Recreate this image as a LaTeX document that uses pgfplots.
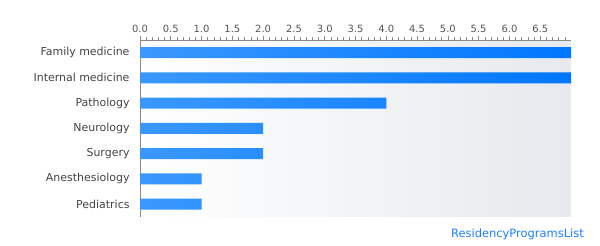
\documentclass[border=0pt]{standalone}
\usepackage{fontspec}
\setmainfont{DejaVu Sans}
\usepackage{pgfplots}
\pgfplotsset{compat=1.18}
\definecolor{barL}{HTML}{3A98FD}
\definecolor{barR}{HTML}{0077FF}
\definecolor{bgR}{HTML}{E6E9ED}
\definecolor{axgray}{HTML}{8A8A8A}
\definecolor{lblgray}{HTML}{444444}
\definecolor{tickgray}{HTML}{555555}
\definecolor{wm}{HTML}{1A7FFF}
\begin{document}
\begin{tikzpicture}[x=1bp,y=1bp]
\path[use as bounding box] (0,0) rectangle (600,245);
\begin{axis}[
  at={(140bp,28.3bp)}, anchor=south west,
  width=431bp, height=176.7bp, scale only axis,
  xmin=0, xmax=7, ymin=-0.5, ymax=6.5,
  y dir=reverse,
  axis x line*=top, axis y line*=left,
  axis line style={axgray, line width=0.8pt},
  xtick={0,0.5,...,6.5},
  minor xtick={0.1,0.2,0.3,0.4,0.6,0.7,0.8,0.9,1.1,1.2,1.3,1.4,1.6,1.7,1.8,1.9,2.1,2.2,2.3,2.4,2.6,2.7,2.8,2.9,3.1,3.2,3.3,3.4,3.6,3.7,3.8,3.9,4.1,4.2,4.3,4.4,4.6,4.7,4.8,4.9,5.1,5.2,5.3,5.4,5.6,5.7,5.8,5.9,6.1,6.2,6.3,6.4,6.6,6.7,6.8,6.9},
  tick align=outside,
  major tick length=4bp, minor tick length=2.6bp,
  x tick style={axgray, line width=0.6pt},
  xticklabel style={font=\fontsize{10}{12}\selectfont, text=tickgray},
  /pgf/number format/assume math mode=true,
  /pgf/number format/fixed, /pgf/number format/fixed zerofill, /pgf/number format/precision=1,
  ytick={0,1,2,3,4,5,6},
  yticklabels={Family medicine,Internal medicine,Pathology,Neurology,Surgery,Anesthesiology,Pediatrics},
  y tick style={draw=none},
  yticklabel style={font=\fontsize{11}{13}\selectfont, text=lblgray, anchor=east, xshift=-3bp},
  axis background/.style={left color=white, right color=bgR},
  clip=true,
]
\addplot[xbar, bar width=11bp, draw=none, left color=barL, right color=barR]
  coordinates {(7,0) (7,1) (4,2) (2,3) (2,4) (1,5) (1,6)};
\end{axis}
\node[anchor=base east, text=wm, font=\fontsize{11.5}{13}\selectfont, inner sep=0pt] at (584,8) {ResidencyProgramsList};
\end{tikzpicture}
\end{document}
